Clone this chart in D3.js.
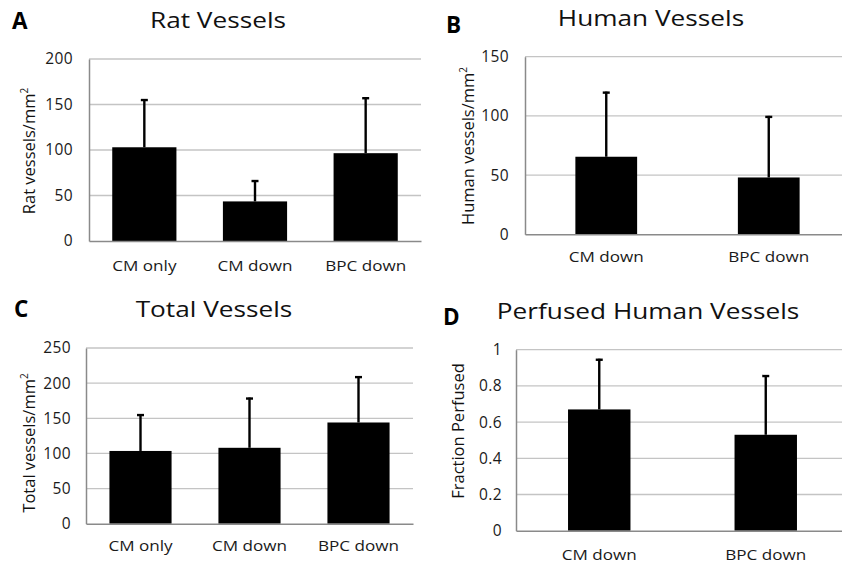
<!DOCTYPE html>
<html>
<head>
<meta charset="utf-8">
<script src="https://cdn.jsdelivr.net/npm/d3@7"></script>
<style>
  body { margin: 0; background: #fff; }
  svg { display: block; font-family: "Open Sans", sans-serif; }
  .grid line { stroke: #c4c4c4; stroke-width: 1.3; }
  .axis path, .axis line { stroke: #8a8a8a; }
  .axis text { fill: #1a1a1a; font-family: "Open Sans", sans-serif; }
</style>
</head>
<body>
<svg id="chart" width="842" height="567"></svg>
<script>
// values (means and SD)
const ratCats = ["CM only", "CM down", "BPC down"];
const ratMeans = [103, 43.5, 96.5];
const ratSD = [53, 23.5, 61.5];
const ratTicks = [0, 50, 100, 150, 200];

const humanCats = ["CM down", "BPC down"];
const humanMeans = [65.5, 48];
const humanSD = [55, 52];
const humanTicks = [0, 50, 100, 150];

const totalCats = ["CM only", "CM down", "BPC down"];
const totalMeans = [103.5, 108, 144];
const totalSD = [52.5, 71.5, 66];
const totalTicks = [0, 50, 100, 150, 200, 250];

const perfCats = ["CM down", "BPC down"];
const perfMeans = [0.67, 0.53];
const perfSD = [0.28, 0.33];
const perfTicks = [0, 0.2, 0.4, 0.6, 0.8, 1];

const svg = d3.select("#chart");

// the original figure is a bit stretched sideways, so widen some text
function stretch(sel, s) {
  sel.each(function () {
    const t = d3.select(this);
    const tx = +t.attr("x") || 0;
    const ty = +t.attr("y") || 0;
    t.attr("x", null).attr("y", null)
      .attr("transform", `translate(${tx},${ty}) scale(${s},1)`);
  });
}

function drawPanel(cfg) {
  const g = svg.append("g");
  const data = cfg.cats.map((c, i) => ({ cat: c, mean: cfg.means[i], sd: cfg.sd[i] }));

  const x = d3.scaleBand()
    .domain(cfg.cats)
    .range([cfg.left, cfg.right])
    .paddingInner(cfg.pad)
    .paddingOuter(cfg.pad / 2);

  const y = d3.scaleLinear()
    .domain([0, d3.max(cfg.ticks)])
    .range([cfg.bottom, cfg.top]);

  // gridlines
  g.append("g")
    .attr("class", "grid")
    .selectAll("line")
    .data(cfg.ticks.slice(1))
    .join("line")
    .attr("x1", cfg.left)
    .attr("x2", cfg.right)
    .attr("y1", d => y(d))
    .attr("y2", d => y(d));

  // bars
  g.selectAll(".bar")
    .data(data)
    .join("rect")
    .attr("class", "bar")
    .attr("x", d => x(d.cat))
    .attr("y", d => y(d.mean))
    .attr("width", x.bandwidth())
    .attr("height", d => y(0) - y(d.mean))
    .attr("fill", "#000");

  // error bars (upper only)
  const err = g.selectAll(".err")
    .data(data)
    .join("g")
    .attr("class", "err")
    .attr("transform", d => `translate(${x(d.cat) + x.bandwidth() / 2},0)`);
  err.append("line")
    .attr("y1", d => y(d.mean))
    .attr("y2", d => y(d.mean + d.sd))
    .attr("stroke", "#000")
    .attr("stroke-width", 2.4);
  err.append("line")
    .attr("x1", -3.5)
    .attr("x2", 3.5)
    .attr("y1", d => y(d.mean + d.sd) + 1)
    .attr("y2", d => y(d.mean + d.sd) + 1)
    .attr("stroke", "#000")
    .attr("stroke-width", 2.4);

  // axes
  const yAxis = d3.axisLeft(y)
    .tickValues(cfg.ticks)
    .tickSize(0)
    .tickPadding(cfg.tickPad)
    .tickFormat(d3.format("~g"));
  g.append("g")
    .attr("class", "axis y-axis")
    .attr("transform", `translate(${cfg.left},0)`)
    .call(yAxis)
    .call(a => a.select(".domain").attr("stroke-width", 1.5))
    .selectAll("text")
    .style("font-size", "15.5px")
    .style("letter-spacing", "0.4px");

  const xAxis = d3.axisBottom(x).tickSize(0).tickPadding(cfg.xPad);
  g.append("g")
    .attr("class", "axis x-axis")
    .attr("transform", `translate(0,${cfg.bottom})`)
    .call(xAxis)
    .call(a => a.select(".domain").attr("stroke-width", 1.5))
    .selectAll("text")
    .style("font-size", "14.5px")
    .call(stretch, 1.18);

  // y label
  g.append("text")
    .attr("transform", `translate(${cfg.yLabelX},${cfg.yLabelY}) rotate(-90)`)
    .attr("text-anchor", "middle")
    .style("font-size", "16.5px")
    .attr("fill", "#111")
    .text(cfg.yLabel)
    .append("tspan")
    .attr("dy", -7)
    .style("font-size", "10px")
    .text(cfg.sup || "");

  // title
  g.append("text")
    .attr("x", cfg.titleX)
    .attr("y", cfg.titleY)
    .attr("text-anchor", "middle")
    .style("font-size", "21.5px")
    .attr("fill", "#111")
    .text(cfg.title)
    .call(stretch, 1.22);

  // panel letter
  g.append("text")
    .attr("x", cfg.letterX)
    .attr("y", cfg.letterY)
    .style("font-size", "22.5px")
    .style("font-weight", "bold")
    .attr("fill", "#000")
    .text(cfg.letter);
}

drawPanel({
  cats: ratCats, means: ratMeans, sd: ratSD, ticks: ratTicks,
  left: 89, right: 421, top: 59, bottom: 241, pad: 0.42,
  tickPad: 16, xPad: 19.5, yLabelX: 35, yLabelY: 151, yLabel: "Rat vessels/mm", sup: "2",
  title: "Rat Vessels", titleX: 218, titleY: 28, letter: "A", letterX: 12, letterY: 29
});

drawPanel({
  cats: humanCats, means: humanMeans, sd: humanSD, ticks: humanTicks,
  left: 525, right: 850, top: 56.7, bottom: 234.3, pad: 0.62,
  tickPad: 16, xPad: 17.5, yLabelX: 474, yLabelY: 146, yLabel: "Human vessels/mm", sup: "2",
  title: "Human Vessels", titleX: 651, titleY: 26, letter: "B", letterX: 446, letterY: 33
});

drawPanel({
  cats: totalCats, means: totalMeans, sd: totalSD, ticks: totalTicks,
  left: 86, right: 413, top: 348, bottom: 523.7, pad: 0.43,
  tickPad: 15, xPad: 17, yLabelX: 35, yLabelY: 443, yLabel: "Total vessels/mm", sup: "2",
  title: "Total Vessels", titleX: 214, titleY: 317, letter: "C", letterX: 14, letterY: 317
});

drawPanel({
  cats: perfCats, means: perfMeans, sd: perfSD, ticks: perfTicks,
  left: 516, right: 849, top: 349.7, bottom: 530.7, pad: 0.625,
  tickPad: 14, xPad: 19, yLabelX: 464, yLabelY: 431, yLabel: "Fraction Perfused",
  title: "Perfused Human Vessels", titleX: 648, titleY: 319, letter: "D", letterX: 443, letterY: 325
});
</script>
</body>
</html>
